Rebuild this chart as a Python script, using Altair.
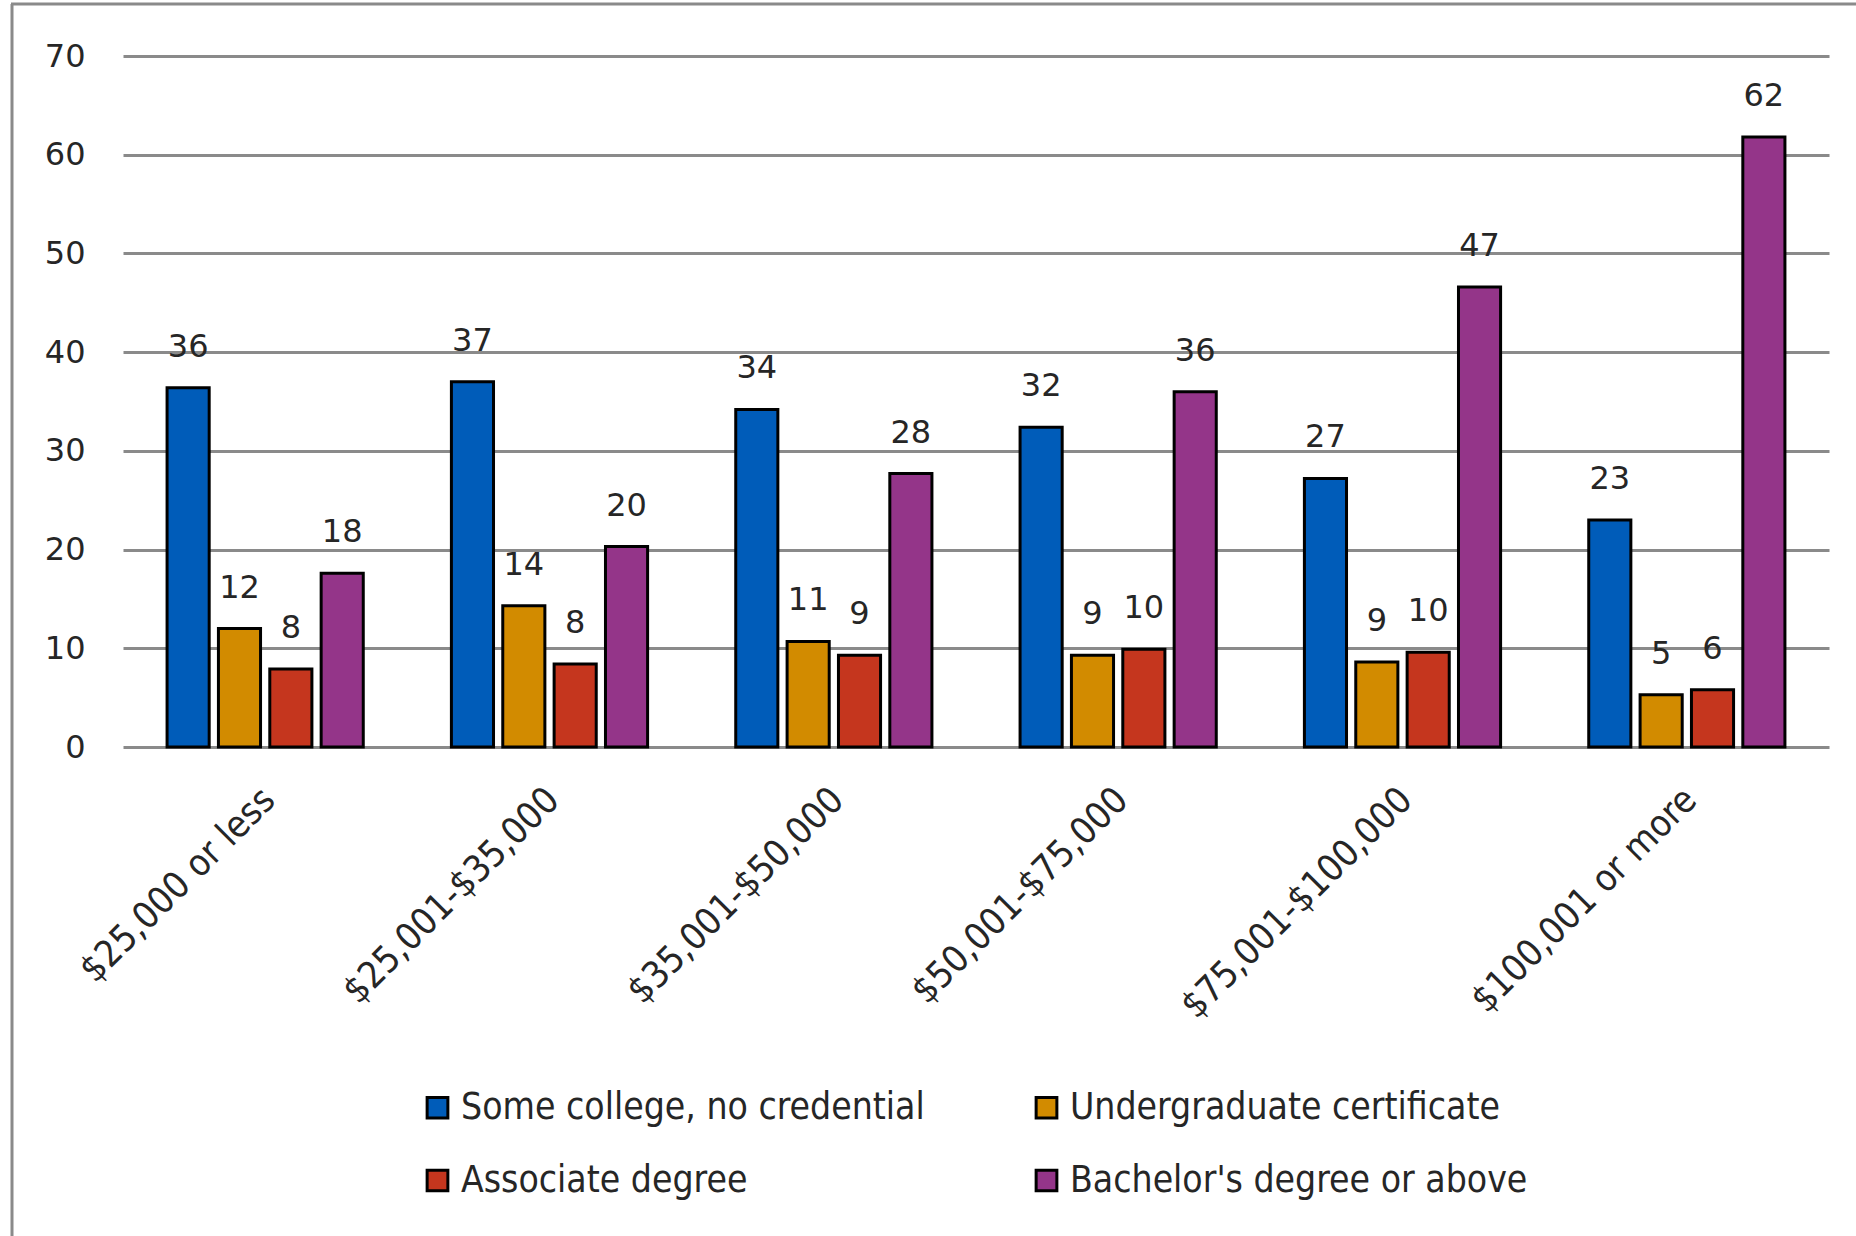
import altair as alt
import pandas as pd

categories = ["$25,000 or less", "$25,001-$35,000", "$35,001-$50,000",
              "$50,001-$75,000", "$75,001-$100,000", "$100,001 or more"]
series = ["Some college, no credential", "Undergraduate certificate",
          "Associate degree", "Bachelor's degree or above"]
some_college = [36.4, 37.0, 34.2, 32.4, 27.2, 23.0]
undergrad_cert = [12.0, 14.3, 10.7, 9.3, 8.6, 5.3]
associate = [7.9, 8.4, 9.3, 9.9, 9.6, 5.8]
bachelor = [17.6, 20.3, 27.7, 36.0, 46.6, 61.8]
colors = ["#005CB9", "#D28B00", "#C5361E", "#943589"]
y_ticks = [0, 10, 20, 30, 40, 50, 60, 70]

rows = []
for s, vals in zip(series, [some_college, undergrad_cert, associate, bachelor]):
    for c, v in zip(categories, vals):
        rows.append({"income": c, "series": s, "value": v})
df = pd.DataFrame(rows)

NUM_FONT = "DejaVu Sans"
TXT_FONT = "DejaVu Sans Condensed"

x_enc = alt.X("income:N", sort=categories, title=None,
              scale=alt.Scale(paddingInner=0.31, paddingOuter=0.155),
              axis=alt.Axis(labelAngle=-45, labelFont=TXT_FONT, labelFontSize=37,
                            labelColor="#262626", domain=False, ticks=False,
                            labelPadding=47, labelOffset=4, labelAlign="right",
                            labelBaseline="middle", labelLimit=600))
xo_enc = alt.XOffset("series:N", sort=series,
                     scale=alt.Scale(paddingInner=0.18, paddingOuter=0))
y_scale = alt.Scale(domain=[0, 70])

bars = alt.Chart(df).mark_bar(stroke="black", strokeWidth=3).encode(
    x=x_enc,
    xOffset=xo_enc,
    y=alt.Y("value:Q", scale=y_scale, title=None,
            axis=alt.Axis(values=y_ticks, grid=True, gridColor="#8a8a8a", gridWidth=3,
                          domain=False, ticks=False, labelFont=NUM_FONT,
                          labelFontSize=32, labelColor="#262626", labelPadding=38)),
    color=alt.Color("series:N", sort=series,
                    scale=alt.Scale(domain=series, range=colors),
                    legend=alt.Legend(title=None, orient="none", legendX=296, legendY=1033,
                                      direction="horizontal",
                                      columns=2, columnPadding=103, rowPadding=35,
                                      symbolType="square", symbolSize=430,
                                      symbolStrokeColor="black", symbolStrokeWidth=3,
                                      labelFont=TXT_FONT, labelFontSize=37,
                                      labelColor="#262626", labelOffset=5,
                                      labelLimit=800, padding=0)),
)

labels = alt.Chart(df).mark_text(font=NUM_FONT, fontSize=32, color="#262626",
                                 baseline="alphabetic", dy=-31).encode(
    x=alt.X("income:N", sort=categories),
    xOffset=xo_enc,
    y=alt.Y("value:Q", scale=y_scale),
    text=alt.Text("value:Q", format=".0f"),
)

frame_left = alt.Chart(pd.DataFrame({"a": [0]})).mark_rule(color="#8a8a8a", strokeWidth=3).encode(
    x=alt.value(-111), y=alt.value(-52), y2=alt.value(1200))
frame_top = alt.Chart(pd.DataFrame({"a": [0]})).mark_rule(color="#8a8a8a", strokeWidth=3).encode(
    x=alt.value(-112), x2=alt.value(1740), y=alt.value(-52))

chart = alt.layer(bars, labels, frame_left, frame_top).properties(
    width=1706, height=691,
    autosize=alt.AutoSizeParams(type="none"),
    padding={"left": 123, "top": 56, "right": 27, "bottom": 489},
    background="white",
).configure_view(stroke=None)

chart.save("out.html", embed_options={"renderer": "svg", "actions": False})
